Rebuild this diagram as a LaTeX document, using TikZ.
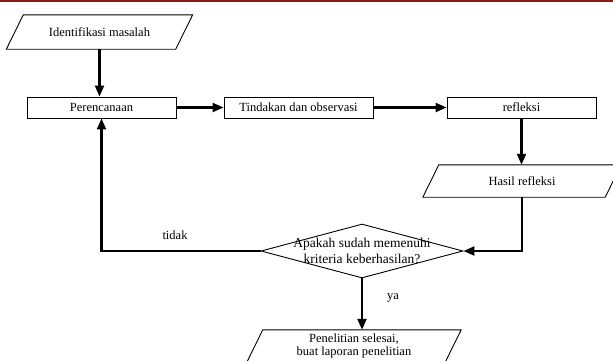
\documentclass[tikz,border=0pt]{standalone}
\usepackage{fontspec}
\setmainfont{Liberation Serif}
\usetikzlibrary{arrows.meta,shapes.geometric}
\definecolor{topred}{RGB}{135,25,25}
\begin{document}
\begin{tikzpicture}[x=1pt,y=-1pt,
  txt/.style={font=\fontsize{12.5}{14}\selectfont, inner sep=0pt},
  box/.style={draw, line width=0.9pt, minimum width=149pt, minimum height=21pt, inner sep=0pt, font=\fontsize{12.5}{14}\selectfont},
  ptxt/.style={inner sep=0pt, align=center, font=\fontsize{12.5}{12.5}\selectfont},
  shapeline/.style={line width=0.9pt, line join=miter},
  conn/.style={line width=2.2pt, -{Triangle[length=11pt,width=9pt]}}]
\useasboundingbox (0,0) rectangle (613,360);
\clip (0,0) rectangle (613,360);
% top rule
\draw[line width=2.5pt, topred] (0,1) -- (613,1);
% Identifikasi masalah
\node[ptxt, minimum width=169pt, minimum height=34pt] (idm) at (99.5,32) {Identifikasi masalah};
\draw[shapeline] ([xshift=8.5pt]idm.north west) -- ([xshift=8.5pt]idm.north east) -- ([xshift=-8.5pt]idm.south east) -- ([xshift=-8.5pt]idm.south west) -- cycle;
% process boxes
\node[box] (per) at (101.5,107.5) {Perencanaan};
\node[box] (tin) at (298.5,107.5) {Tindakan dan observasi};
\node[box] (ref) at (521.5,107.5) {refleksi};
% Hasil refleksi
\node[ptxt, minimum width=182pt, minimum height=32pt] (has) at (522,181) {Hasil refleksi};
\draw[shapeline] ([xshift=8pt]has.north west) -- ([xshift=8pt]has.north east) -- ([xshift=-8pt]has.south east) -- ([xshift=-8pt]has.south west) -- cycle;
% decision
\node[diamond, draw, line width=0.9pt, minimum width=202pt, minimum height=54pt, inner sep=0pt] (dec) at (362,251) {};
\node[inner sep=0pt, align=center, font=\fontsize{13.5}{16}\selectfont] (dect) at (dec.center) {Apakah sudah memenuhi\\kriteria keberhasilan?};
% Penelitian selesai
\node[ptxt, minimum width=198pt, minimum height=32pt] (pen) at (354,346) {Penelitian selesai,\\buat laporan penelitian};
\draw[shapeline] ([xshift=8pt]pen.north west) -- ([xshift=8pt]pen.north east) -- ([xshift=-8pt]pen.south east) -- ([xshift=-8pt]pen.south west) -- cycle;
% labels
\node[txt] (tidak) at (175,235) {tidak};
\node[txt] (ya) at (393,298) {ya};
% connectors
\draw[conn] (idm.south) -- (idm.south |- per.north);
\draw[conn] (per.east) -- (tin.west);
\draw[conn] (tin.east) -- (ref.west);
\draw[conn] (ref.south) -- (ref.south |- has.north);
\draw[conn] (has.south) -- (has.south |- dec.east) -- (dec.east);
\draw[conn] (dec.west) -- (per.south |- dec.west) -- (per.south);
\draw[conn] (dec.south) -- (dec.south |- pen.north);
\end{tikzpicture}
\end{document}
